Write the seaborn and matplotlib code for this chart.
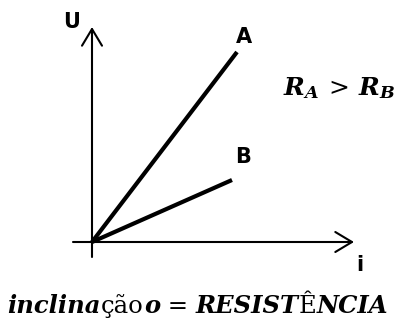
import numpy as np
import pandas as pd
import matplotlib
matplotlib.use("Agg")
import matplotlib.pyplot as plt
import seaborn as sns

sns.set_style("white")
plt.rcParams['text.color'] = 'black'
plt.rcParams['mathtext.fontset'] = 'custom'
plt.rcParams['mathtext.it'] = 'DejaVu Serif:italic:bold'
plt.rcParams['mathtext.rm'] = 'DejaVu Serif'
plt.rcParams['mathtext.bf'] = 'DejaVu Serif:bold'

# U x i graph (coords in px-like units, origin at intersection of axes)
lines = ["A", "B"]
i_end = [145, 140]
u_end = [190, 62]
label_pos = [(152, 205), (151, 85)]

# bottom caption pieces: (text, bold-italic?)
caption = [("inclina", True), ("ção", False), ("o", True), (" = ", False),
           ("RESIST", True), ("Ê", False), ("NCIA", True)]

df = pd.DataFrame({
    "i": [0, i_end[0], 0, i_end[1]],
    "U": [0, u_end[0], 0, u_end[1]],
    "line": ["A", "A", "B", "B"],
})

fig = plt.figure(figsize=(3.96, 3.25), dpi=100)
ax = fig.add_axes([0, 0, 1, 1])
ax.set_xlim(-92, 304)
ax.set_ylim(-83, 242)
ax.set_axis_off()

sns.lineplot(data=df, x="i", y="U", units="line", estimator=None, color="black",
             lw=3, solid_capstyle="butt", legend=False, ax=ax)

# axes with open arrow heads
arrow = dict(arrowstyle="->,head_length=1.0,head_width=0.6", lw=1.5, color="black",
             shrinkA=0, shrinkB=0, mutation_scale=12)
ax.annotate("", xy=(0, 215), xytext=(0, -15), arrowprops=arrow)
ax.annotate("", xy=(262, 0), xytext=(-19, 0), arrowprops=arrow)

sans = dict(family="DejaVu Sans", fontweight="bold", fontsize=15, ha="center", va="center")
ax.text(-20, 220, "U", **sans)
ax.text(268, -23, "i", **sans)
for name, (x, y) in zip(lines, label_pos):
    ax.text(x, y, name, **sans)

ax.text(247, 147, r"$R_A\,>\,R_B$", fontsize=18, ha="center", va="baseline")

# caption built from pieces laid side by side, then centred
pieces = []
for txt, bi in caption:
    pieces.append(fig.text(0, 0, txt, family="DejaVu Serif", fontsize=17.5,
                           fontweight="bold" if bi else "normal",
                           fontstyle="italic" if bi else "normal",
                           ha="left", va="baseline", transform=None))
fig.canvas.draw()
r = fig.canvas.get_renderer()
widths = [p.get_window_extent(r).width for p in pieces]
x = (396 - sum(widths)) / 2
for p, w in zip(pieces, widths):
    p.set_position((x, 12))
    x += w

fig.savefig("out.png", dpi=100)
